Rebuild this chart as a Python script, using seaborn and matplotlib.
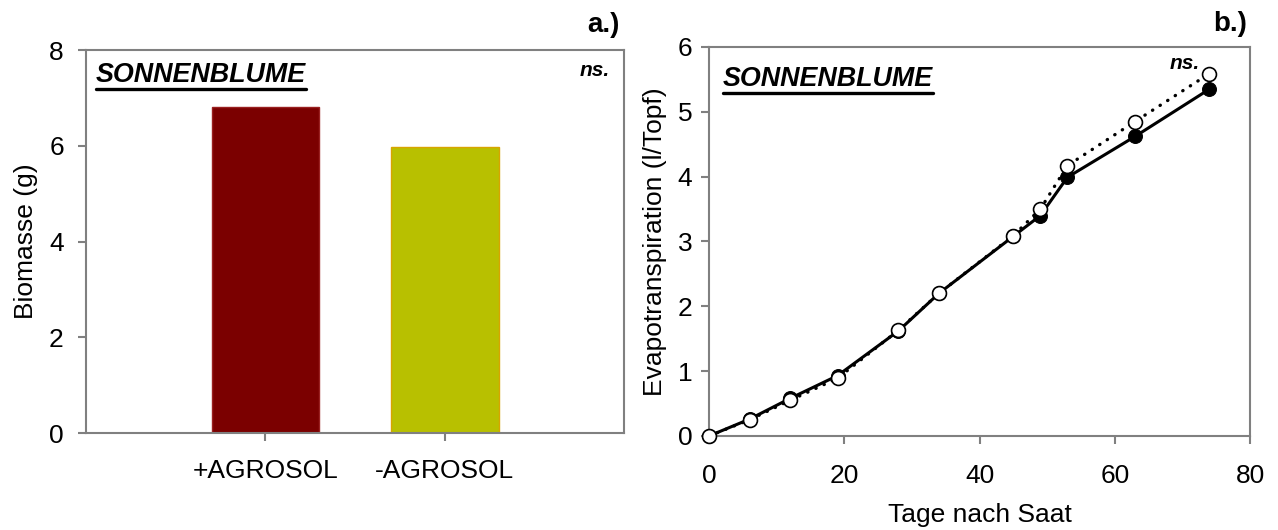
import matplotlib
matplotlib.use("Agg")
import matplotlib.pyplot as plt
import seaborn as sns
import pandas as pd
from matplotlib.lines import Line2D

# ---- data ----
categories = ["+AGROSOL", "-AGROSOL"]
biomass = [6.80, 5.97]

days = [0, 6, 12, 19, 28, 34, 45, 49, 53, 63, 74]
et_with = [0.0, 0.26, 0.58, 0.93, 1.62, 2.20, 3.08, 3.40, 3.99, 4.62, 5.35]
et_without = [0.0, 0.25, 0.55, 0.89, 1.63, 2.20, 3.09, 3.50, 4.17, 4.85, 5.59]

sns.set_style("white")
plt.rcParams['font.family'] = ['Liberation Sans', 'DejaVu Sans']
plt.rcParams['text.color'] = 'black'
plt.rcParams['axes.labelcolor'] = 'black'

fig = plt.figure(figsize=(12.78, 5.30), dpi=100)
ax1 = fig.add_axes([0.0673, 0.183, 0.421, 0.7226])
ax2 = fig.add_axes([0.5548, 0.1774, 0.4233, 0.734])

spine_col = "#808080"
FS = 19

# ---- panel a ----
df_a = pd.DataFrame({"cat": categories, "val": biomass})
sns.barplot(data=df_a, x="cat", y="val", hue="cat",
            palette=["#7B0000", "#B8C000"], width=0.6, ax=ax1,
            legend=False, saturation=1)
for p, ec in zip(ax1.patches, ["#9A2020", "#D8A400"]):
    p.set_edgecolor(ec)
    p.set_linewidth(1.0)
ax1.set_xlim(-1, 2)
ax1.set_ylim(0, 8)
ax1.set_yticks([0, 2, 4, 6, 8])
ax1.set_xlabel("")
ax1.set_ylabel("Biomasse (g)", fontsize=FS, labelpad=8, color="black")

# ---- panel b ----
df_b = pd.DataFrame({
    "Tage": days * 2,
    "ET": et_with + et_without,
    "grp": ["with"] * len(days) + ["without"] * len(days),
})
sns.lineplot(data=df_b[df_b.grp == "with"], x="Tage", y="ET", ax=ax2,
             color="black", linewidth=2.2, marker="o", markersize=10,
             markerfacecolor="black", markeredgecolor="black",
             clip_on=False, zorder=3)
sns.lineplot(data=df_b[df_b.grp == "without"], x="Tage", y="ET", ax=ax2,
             color="black", linewidth=2.4, linestyle=(0, (0.1, 2.6)),
             dash_capstyle="round",
             marker="o", markersize=10, markerfacecolor="white",
             markeredgecolor="black", markeredgewidth=1.2,
             clip_on=False, zorder=4)
ax2.set_xlim(0, 80)
ax2.set_ylim(0, 6)
ax2.set_xticks([0, 20, 40, 60, 80])
ax2.set_yticks([0, 1, 2, 3, 4, 5, 6])
ax2.set_xlabel("Tage nach Saat", fontsize=FS, labelpad=11, color="black")
ax2.set_ylabel("Evapotranspiration (l/Topf)", fontsize=FS, labelpad=8,
               color="black")

for ax in (ax1, ax2):
    for s in ax.spines.values():
        s.set_color(spine_col)
        s.set_linewidth(1.5)
        s.set_visible(True)
    ax.tick_params(axis="both", direction="out", length=6, width=1.5,
                   color=spine_col, labelsize=FS, labelcolor="black",
                   bottom=True, left=True)
ax1.tick_params(axis="x", pad=13)
ax1.tick_params(axis="y", pad=10)
ax2.tick_params(axis="x", pad=14)
ax2.tick_params(axis="y", pad=6)

# ---- annotations ----
t1 = ax1.text(0.0186, 0.970, "SONNENBLUME", transform=ax1.transAxes,
              fontsize=19.4, fontweight="bold", fontstyle="italic",
              ha="left", va="top", color="black")
t2 = ax2.text(0.026, 0.951, "SONNENBLUME", transform=ax2.transAxes,
              fontsize=19.4, fontweight="bold", fontstyle="italic",
              ha="left", va="top", color="black")
ax1.text(0.974, 0.971, "ns.", transform=ax1.transAxes, fontsize=15,
         fontweight="bold", fontstyle="italic", ha="right", va="top",
         color="black")
ax2.text(0.907, 0.982, "ns.", transform=ax2.transAxes, fontsize=15,
         fontweight="bold", fontstyle="italic", ha="right", va="top",
         color="black")
fig.text(0.485, 0.953, "a.)", fontsize=20, fontweight="bold",
         ha="right", va="center", color="black")
fig.text(0.9757, 0.955, "b.)", fontsize=20, fontweight="bold",
         ha="right", va="center", color="black")

# underline the titles
fig.canvas.draw()
r = fig.canvas.get_renderer()
for ax, t in ((ax1, t1), (ax2, t2)):
    bb = t.get_window_extent(renderer=r)
    inv = ax.transAxes.inverted()
    (x0, y0) = inv.transform((bb.x0, bb.y0 - 1))
    (x1, _) = inv.transform((bb.x1, bb.y0 - 1))
    ax.add_line(Line2D([x0, x1], [y0, y0], transform=ax.transAxes,
                       color="black", linewidth=2.4, clip_on=False))

fig.savefig("out.png", dpi=100)
